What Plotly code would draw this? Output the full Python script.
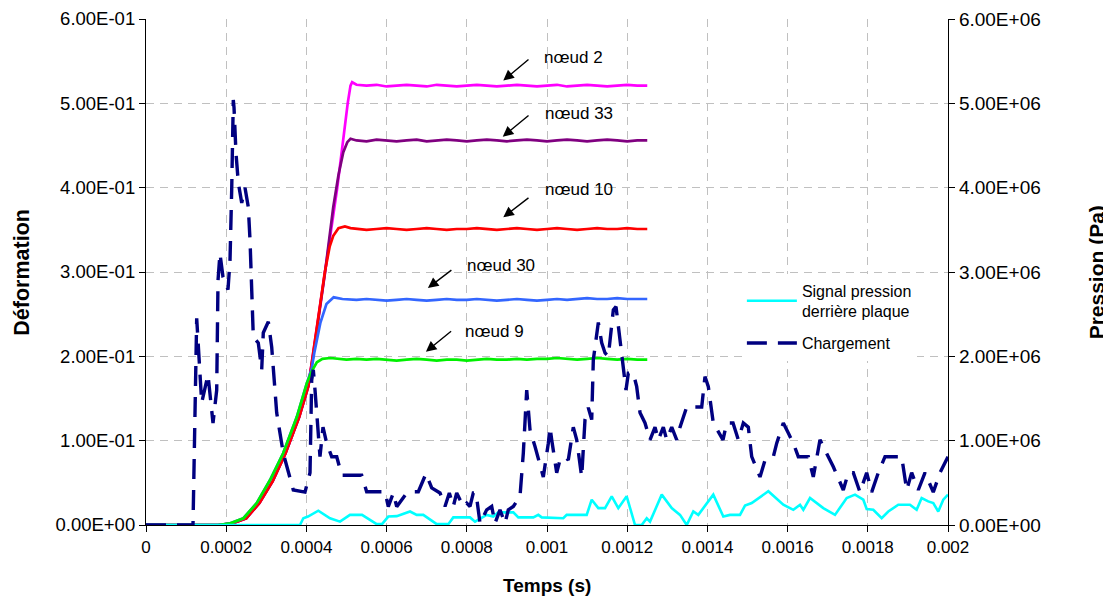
import plotly.graph_objects as go

# ---------------- data (time in microseconds, strain, pressure in Pa) ----------------
plateau_t_us = [525, 550, 575, 600, 625, 650, 675, 700, 725, 750, 775, 800, 825, 850, 875,
                900, 925, 950, 975, 1000, 1025, 1050, 1075, 1100, 1125, 1150, 1175, 1200, 1225, 1250]

rise_t_us_a = [0, 180, 215, 250, 283, 316, 348, 382, 405]
rise_v_a = [0, 0.0, 0.002, 0.008, 0.026, 0.052, 0.085, 0.128, 0.165]

rise_t_us_b = [0, 180, 210, 243, 276, 309, 342, 376, 401]
rise_v_b = [0, 0.0, 0.002, 0.008, 0.026, 0.053, 0.085, 0.128, 0.168]

n2_t_us = [416, 446, 477, 503, 510, 514]
n2_v = [0.200, 0.300, 0.400, 0.500, 0.521, 0.525]
n2_plateau = [0.522, 0.521, 0.522, 0.520, 0.521, 0.522, 0.521, 0.520, 0.522, 0.521,
              0.520, 0.521, 0.522, 0.521, 0.520, 0.521, 0.522, 0.521, 0.520, 0.521,
              0.522, 0.520, 0.521, 0.522, 0.521, 0.520, 0.521, 0.522, 0.521, 0.521]

n33_t_us = [416, 446, 467, 480, 492, 502, 510]
n33_v = [0.198, 0.298, 0.377, 0.415, 0.442, 0.454, 0.458]
n33_plateau = [0.456, 0.455, 0.457, 0.456, 0.455, 0.456, 0.457, 0.455, 0.456, 0.457,
               0.456, 0.455, 0.456, 0.457, 0.456, 0.455, 0.456, 0.457, 0.456, 0.455,
               0.456, 0.457, 0.456, 0.455, 0.456, 0.457, 0.456, 0.455, 0.456, 0.456]

n10_t_us = [416, 426, 446, 458, 467, 480, 496, 510]
n10_v = [0.202, 0.235, 0.300, 0.330, 0.343, 0.352, 0.354, 0.352]
n10_plateau = [0.351, 0.350, 0.351, 0.352, 0.351, 0.350, 0.351, 0.352, 0.351, 0.350,
               0.351, 0.351, 0.352, 0.351, 0.350, 0.351, 0.352, 0.351, 0.350, 0.351,
               0.352, 0.351, 0.350, 0.351, 0.352, 0.351, 0.351, 0.352, 0.351, 0.351]

n30_t_us = [413, 420, 435, 450, 468, 490, 510]
n30_v = [0.185, 0.205, 0.240, 0.262, 0.270, 0.268, 0.267]
n30_plateau = [0.267, 0.268, 0.267, 0.266, 0.267, 0.268, 0.267, 0.266, 0.267, 0.268,
               0.267, 0.267, 0.268, 0.267, 0.266, 0.267, 0.268, 0.267, 0.266, 0.267,
               0.268, 0.267, 0.268, 0.269, 0.268, 0.268, 0.269, 0.268, 0.268, 0.268]

n9_t_us = [413, 426, 440, 460, 480, 500]
n9_v = [0.182, 0.193, 0.197, 0.198, 0.197, 0.196]
n9_plateau = [0.197, 0.196, 0.197, 0.196, 0.195, 0.196, 0.197, 0.196, 0.195, 0.196,
              0.196, 0.195, 0.196, 0.197, 0.196, 0.196, 0.197, 0.196, 0.197, 0.197,
              0.198, 0.197, 0.196, 0.197, 0.198, 0.197, 0.196, 0.197, 0.196, 0.196]

charge_t_us = [0, 117.2, 126.4, 138.9, 154.6, 167.1, 176.3, 179.6, 184.5, 192.0, 204.5, 209.5,
               213.7, 216.2, 217.7, 219.5, 222.0, 224.4, 230.2, 238.7, 246.9, 255.1, 259.4,
               263.6, 267.6, 280.0, 288.5, 292.5, 305.0, 313.5, 325.9, 342.4, 367.3, 396.5,
               409.0, 413.2, 417.2, 421.5, 425.7, 433.9, 441.4, 450.6, 463.1, 475.6, 488.0,
               537.9, 550.3, 596.0, 604.2, 616.7, 625.2, 650.1, 662.6, 679.1, 698.3, 712.5,
               733.2, 745.6, 756.4, 766.3, 774.8, 791.3, 799.8, 808.0, 816.2, 823.0, 833.0,
               849.6, 862.1, 870.3, 882.8, 895.3, 903.5, 916.0, 932.7, 940.9, 949.4, 957.6,
               970.1, 982.6, 990.8, 1003.3, 1007.5, 1011.7, 1024.2, 1032.4, 1044.9, 1053.1,
               1065.6, 1074.1, 1086.5, 1094.8, 1103.0, 1111.5, 1115.5, 1128.0, 1136.4, 1144.7,
               1152.9, 1157.2, 1165.4, 1172.1, 1177.8, 1186.3, 1197.0, 1202.8, 1215.2, 1223.7,
               1232.0, 1244.4, 1256.9, 1269.4, 1277.6, 1290.1, 1298.5, 1311.0, 1323.5, 1331.7,
               1348.4, 1385.8, 1394.0, 1402.3, 1414.7, 1438.9, 1448.1, 1463.9, 1477.1, 1489.6,
               1502.0, 1510.5, 1531.2, 1543.7, 1564.4, 1572.9, 1589.3, 1601.8, 1614.3, 1626.7,
               1651.7, 1664.1, 1680.8, 1689.0, 1714.0, 1738.9, 1751.4, 1763.9, 1780.5, 1797.2,
               1809.7, 1826.1, 1842.9, 1884.5, 1897.0, 1909.4, 1925.9, 1942.7, 1963.3, 1980.0,
               2000.0]
charge_pa = [0, 0, 2.45e6, 1.45e6, 1.78e6, 1.21e6, 1.60e6, 2.90e6, 3.22e6, 2.94e6, 2.79e6, 3.14e6,
             3.97e6, 4.77e6, 5.04e6, 4.95e6, 4.55e6, 4.41e6, 4.06e6, 3.82e6, 4.00e6, 3.77e6, 3.38e6,
             2.79e6, 2.23e6, 2.16e6, 1.84e6, 2.28e6, 2.41e6, 2.11e6, 1.33e6, 0.85e6, 0.415e6, 0.39e6,
             0.62e6, 1.72e6, 1.84e6, 1.60e6, 1.33e6, 0.81e6, 1.16e6, 0.97e6, 0.81e6, 0.81e6, 0.59e6,
             0.59e6, 0.395e6, 0.395e6, 0.217e6, 0.38e6, 0.217e6, 0.38e6, 0.395e6, 0.395e6, 0.61e6, 0.44e6,
             0.38e6, 0.22e6, 0.38e6, 0.22e6, 0.38e6, 0.22e6, 0.26e6, 0.22e6, 0.38e6, 0.38e6, 0.02e6,
             0.18e6, 0.22e6, 0.02e6, 0.18e6, 0.02e6, 0.18e6, 0.22e6, 0.34e6, 0.85e6, 1.60e6, 1.13e6,
             0.93e6, 0.69e6, 0.57e6, 0.97e6, 1.16e6, 1.01e6, 0.62e6, 0.77e6, 0.81e6, 0.77e6,
             1.16e6, 1.01e6, 0.57e6, 1.25e6, 1.39e6, 1.25e6, 1.96e6, 2.40e6, 2.16e6, 2.04e6,
             2.00e6, 2.19e6, 2.55e6, 2.59e6, 2.35e6, 2.00e6, 1.60e6, 1.80e6, 1.80e6, 1.64e6,
             1.33e6, 1.21e6, 1.01e6, 1.16e6, 1.01e6, 1.16e6, 1.01e6, 1.16e6, 1.01e6, 1.16e6,
             1.40e6, 1.40e6, 1.76e6, 1.64e6, 1.21e6, 1.01e6, 1.21e6, 1.21e6, 1.01e6, 1.21e6,
             1.16e6, 0.81e6, 0.57e6, 0.77e6, 0.81e6, 0.97e6, 1.21e6, 1.09e6, 0.97e6, 0.81e6,
             0.81e6, 0.57e6, 1.01e6, 0.93e6, 0.69e6, 0.415e6, 0.62e6, 0.62e6, 0.39e6, 0.62e6,
             0.39e6, 0.62e6, 0.81e6, 0.81e6, 0.415e6, 0.62e6, 0.415e6, 0.62e6, 0.39e6, 0.62e6,
             0.81e6]

signal_t_us = [0, 384.0, 392.3, 404.0, 429.7, 458.9, 483.8, 508.7, 538.7, 575.3, 588.5, 604.2,
               625.2, 650.1, 658.4, 675.1, 691.5, 725.0, 753.9, 766.3, 808.0, 820.5, 837.2,
               849.6, 866.1, 878.6, 916.0, 928.5, 965.9, 978.3, 986.8, 1040.6, 1049.1, 1099.0,
               1111.5, 1128.0, 1144.7, 1161.4, 1177.8, 1198.7, 1219.5, 1236.2, 1248.7, 1256.9,
               1286.1, 1311.0, 1331.7, 1348.4, 1364.9, 1377.3, 1414.7, 1439.7, 1456.4, 1481.3,
               1493.8, 1510.5, 1551.9, 1589.3, 1614.3, 1631.0, 1639.2, 1655.9, 1689.0, 1718.2,
               1747.4, 1768.1, 1788.8, 1797.2, 1813.7, 1834.6, 1851.1, 1876.0, 1905.1, 1921.8,
               1934.3, 1950.7, 1963.3, 1975.7, 1988.2, 2000.0]
signal_pa = [0, 0, 0.08e6, 0.10e6, 0.17e6, 0.08e6, 0.04e6, 0.12e6, 0.12e6, 0.01e6, 0.01e6, 0.10e6,
             0.105e6, 0.15e6, 0.16e6, 0.12e6, 0.12e6, 0.01e6, 0.01e6, 0.09e6, 0.09e6, 0.04e6, 0.09e6,
             0.12e6, 0.10e6, 0.15e6, 0.15e6, 0.09e6, 0.09e6, 0.12e6, 0.09e6, 0.08e6, 0.12e6, 0.12e6,
             0.30e6, 0.20e6, 0.20e6, 0.34e6, 0.20e6, 0.34e6, 0.0, 0.0, 0.08e6, 0.04e6,
             0.36e6, 0.20e6, 0.12e6, 0.0, 0.16e6, 0.12e6, 0.36e6, 0.10e6, 0.12e6, 0.12e6,
             0.23e6, 0.26e6, 0.40e6, 0.24e6, 0.18e6, 0.24e6, 0.18e6, 0.32e6, 0.20e6, 0.12e6,
             0.32e6, 0.36e6, 0.30e6, 0.19e6, 0.18e6, 0.08e6, 0.16e6, 0.24e6, 0.24e6, 0.18e6,
             0.32e6, 0.28e6, 0.26e6, 0.16e6, 0.30e6, 0.36e6]

x_tickvals = [0, 0.0002, 0.0004, 0.0006, 0.0008, 0.001, 0.0012, 0.0014, 0.0016, 0.0018, 0.002]
x_ticktext = ["0", "0.0002", "0.0004", "0.0006", "0.0008", "0.001", "0.0012", "0.0014", "0.0016", "0.0018", "0.002"]
y_tickvals = [0, 0.1, 0.2, 0.3, 0.4, 0.5, 0.6]
y_ticktext = ["0.00E+00", "1.00E-01", "2.00E-01", "3.00E-01", "4.00E-01", "5.00E-01", "6.00E-01"]
y2_tickvals = [0, 1e6, 2e6, 3e6, 4e6, 5e6, 6e6]
y2_ticktext = ["0.00E+00", "1.00E+06", "2.00E+06", "3.00E+06", "4.00E+06", "5.00E+06", "6.00E+06"]

node_labels = ["nœud 2", "nœud 33", "nœud 10", "nœud 30", "nœud 9"]


def us(lst):
    return [v * 1e-6 for v in lst]


FONT = "Liberation Sans, Arial, sans-serif"

fig = go.Figure()

nodes = [
    (rise_t_us_a, rise_v_a, n2_t_us, n2_v, n2_plateau, "#FF00FF"),
    (rise_t_us_a, rise_v_a, n33_t_us, n33_v, n33_plateau, "#800080"),
    (rise_t_us_a, rise_v_a, n10_t_us, n10_v, n10_plateau, "#FF0000"),
    (rise_t_us_b, rise_v_b, n30_t_us, n30_v, n30_plateau, "#3366FF"),
    (rise_t_us_b, rise_v_b, n9_t_us, n9_v, n9_plateau, "#00F000"),
]
for name, (rt, rv, nt, nv, pv, col) in zip(node_labels, nodes):
    fig.add_trace(go.Scatter(
        x=us(rt + nt + plateau_t_us), y=rv + nv + pv, mode="lines", name=name,
        line=dict(color=col, width=2.7), showlegend=False, xaxis="x", yaxis="y"))

fig.add_trace(go.Scatter(
    x=us(signal_t_us), y=signal_pa, mode="lines",
    name="Signal pression<br>derrière plaque", legendgroup="a",
    line=dict(color="#00FFFF", width=2.6), yaxis="y2"))
fig.add_trace(go.Scatter(
    x=us(charge_t_us), y=charge_pa, mode="lines", name="Chargement", legendgroup="b",
    line=dict(color="#000080", width=3.4, dash="20px,11px"), yaxis="y2"))

grid = dict(showgrid=True, gridcolor="#C0C0C0", gridwidth=1, griddash="8px,6px")

# page body has an 8px margin: compensate so the plot area sits where the reference has it
fig.update_layout(
    width=1103, height=591,
    margin=dict(l=138, r=163, t=11, b=74, autoexpand=False),
    paper_bgcolor="white", plot_bgcolor="white",
    font=dict(family=FONT, color="black", size=18),
    xaxis=dict(range=[0, 0.002], tickvals=x_tickvals, ticktext=x_ticktext,
               showline=True, linecolor="black", linewidth=1.2, automargin=False,
               ticks="outside", ticklen=6, tickcolor="black", zeroline=False,
               tickfont=dict(size=17), **grid),
    yaxis=dict(range=[0, 0.6], tickvals=y_tickvals, ticktext=y_ticktext,
               showline=True, linecolor="black", linewidth=1.2, automargin=False,
               ticks="outside", ticklen=6, tickcolor="black", zeroline=False,
               tickfont=dict(size=18.5), **grid),
    yaxis2=dict(range=[0, 6e6], tickvals=y2_tickvals, ticktext=y2_ticktext,
                overlaying="y", side="right", showgrid=False, automargin=False,
                showline=True, linecolor="black", linewidth=1.2,
                ticks="outside", ticklen=6, tickcolor="black", zeroline=False,
                tickfont=dict(size=19)),
    legend=dict(x=0.743, y=0.497, xanchor="left", yanchor="top",
                bgcolor="white", borderwidth=0, font=dict(size=16, family=FONT),
                tracegroupgap=8, itemwidth=50),
)

# axis titles as annotations
fig.add_annotation(text="<b>Déformation</b>", xref="paper", yref="paper",
                   x=-0.155, y=0.5, textangle=-90, showarrow=False,
                   font=dict(size=21.5, family=FONT), xanchor="center", yanchor="middle")
fig.add_annotation(text="<b>Pression (Pa)</b>", xref="paper", yref="paper",
                   x=1.185, y=0.5, textangle=-90, showarrow=False,
                   font=dict(size=21, family=FONT), xanchor="center", yanchor="middle")
fig.add_annotation(text="<b>Temps (s)</b>", xref="paper", yref="paper",
                   x=0.5, y=-0.119, showarrow=False,
                   font=dict(size=19, family=FONT), xanchor="center", yanchor="middle")

# node labels: (text position, arrow head, arrow tail offset in px)
label_pos = [(986.9e-6, 0.5544), (989.4e-6, 0.4877), (989.4e-6, 0.3984), (795.6e-6, 0.3083), (790.6e-6, 0.2289)]
arrow_head = [(891e-6, 0.527), (889.6e-6, 0.4605), (891e-6, 0.3649), (703e-6, 0.281), (698e-6, 0.2055)]
arrow_tail = [(26.7, -22.4), (27.3, -22.4), (26.7, -20.6), (25, -19), (26.7, -21.7)]
for lbl, (tx, ty), (hx, hy), (ax, ay) in zip(node_labels, label_pos, arrow_head, arrow_tail):
    fig.add_annotation(text=lbl, x=tx, y=ty, xref="x", yref="y", showarrow=False,
                       xanchor="left", yanchor="middle", font=dict(size=17, family=FONT))
    fig.add_annotation(text="", x=hx, y=hy, xref="x", yref="y", showarrow=True,
                       ax=ax, ay=ay, arrowhead=2, arrowsize=1.5, arrowwidth=1.4,
                       arrowcolor="black")

fig.write_html("out.html")
